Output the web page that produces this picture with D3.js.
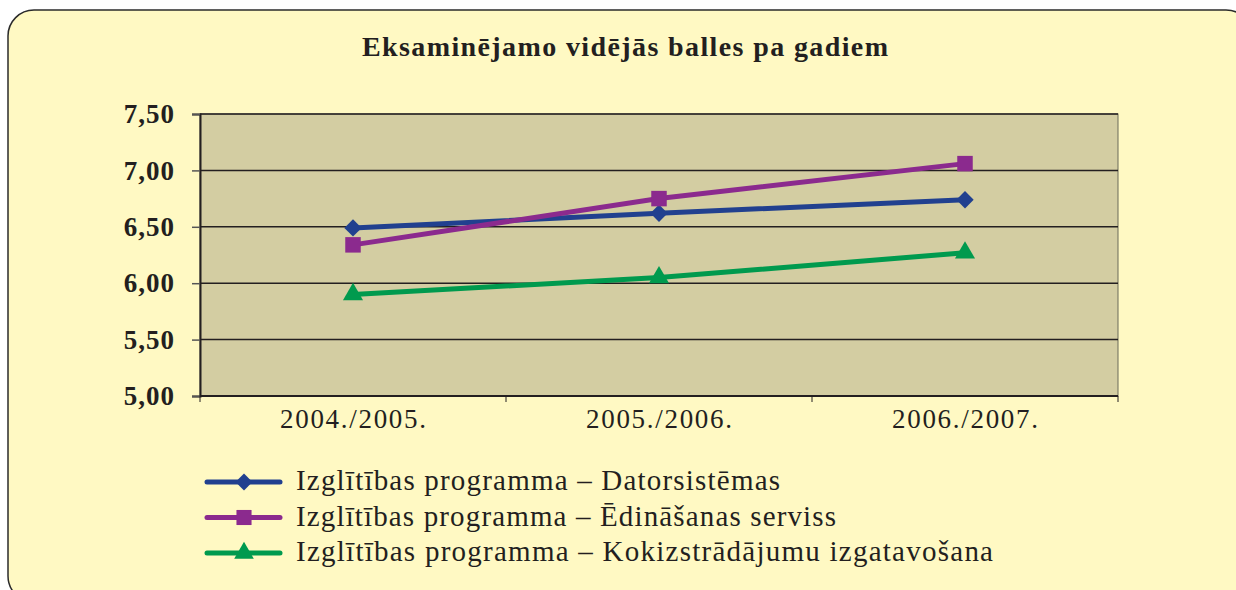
<html>
<head>
<script src="https://d3js.org/d3.v7.min.js"></script>
<style>
  body { margin: 0; background: #ffffff; }
  svg text { font-family: "Liberation Serif", "DejaVu Serif", serif; fill: #231f20; }
</style>
</head>
<body>
<svg id="chart" width="1236" height="590"></svg>
<script>
// data
const years = ['2004./2005.', '2005./2006.', '2006./2007.'];
const datorsistemas = [6.49, 6.62, 6.74];
const edinasanas = [6.34, 6.75, 7.06];
const kokizstradajumi = [5.90, 6.05, 6.27];
const yTicks = [5.0, 5.5, 6.0, 6.5, 7.0, 7.5];
const seriesNames = [
    'Izglītības programma – Datorsistēmas',
    'Izglītības programma – Ēdināšanas serviss',
    'Izglītības programma – Kokizstrādājumu izgatavošana'
];
const seriesColors = ['#21408f', '#8b2a8e', '#009a4e'];
const seriesShapes = ['diamond', 'square', 'triangle'];

const series = [datorsistemas, edinasanas, kokizstradajumi].map(function(v, i){
    return { name: seriesNames[i], color: seriesColors[i], shape: seriesShapes[i],
             values: v.map(function(d, j){ return { year: years[j], value: d }; }) };
});

// marker shapes: diamond = rotated square
function marker(shape, scale){
    if(shape == 'diamond') return { d: d3.symbol().type(d3.symbolSquare).size(150 * scale)(), rot: 45 };
    if(shape == 'square') return { d: d3.symbol().type(d3.symbolSquare).size(240 * scale)(), rot: 0 };
    return { d: d3.symbol().type(d3.symbolTriangle).size(175 * scale)(), rot: 0 };
}

const svg = d3.select('svg#chart');

// panel
svg.append('rect')
    .attr('x', 8).attr('y', 10)
    .attr('width', 1244).attr('height', 592)
    .attr('rx', 26).attr('ry', 26)
    .attr('fill', '#fff9c3')
    .attr('stroke', '#2b2b2b')
    .attr('stroke-width', 1.5);

svg.append('text')
    .attr('x', 625).attr('y', 56)
    .attr('text-anchor', 'middle')
    .attr('font-size', 28)
    .attr('font-weight', 'bold')
    .attr('textLength', 526)
    .attr('lengthAdjust', 'spacing')
    .text('Eksaminējamo vidējās balles pa gadiem');

const plot = { left: 200, right: 1118, top: 114, bottom: 396 };

const x = d3.scaleBand().domain(years).range([plot.left, plot.right]);
const y = d3.scaleLinear().domain([5, 7.5]).range([plot.bottom, plot.top]);

svg.append('rect')
    .attr('x', plot.left).attr('y', plot.top)
    .attr('width', plot.right - plot.left).attr('height', plot.bottom - plot.top)
    .attr('fill', '#d3cda2')
    .attr('stroke', '#6b6b5a')
    .attr('stroke-width', 1);

// grid lines
svg.append('g')
    .selectAll('line').data(yTicks.slice(1))
    .enter().append('line')
    .attr('x1', plot.left).attr('x2', plot.right)
    .attr('y1', function(d){ return y(d); })
    .attr('y2', function(d){ return y(d); })
    .attr('stroke', '#231f20')
    .attr('stroke-width', 1.5);

// y axis
const yAxis = svg.append('g')
    .attr('transform', 'translate(' + plot.left + ',0)')
    .call(d3.axisLeft(y).tickValues(yTicks).tickSize(8).tickPadding(17)
        .tickFormat(function(d){ return d3.format('.2f')(d).replace('.', ','); }));
yAxis.select('.domain').attr('stroke', '#231f20').attr('stroke-width', 2);
yAxis.selectAll('.tick line').attr('stroke', '#555').attr('stroke-width', 1.5);
yAxis.selectAll('text')
    .attr('font-size', 27).attr('font-weight', 'bold')
    .attr('fill', '#000')
    .attr('letter-spacing', 1)
    .style('font-family', '"Liberation Serif", serif');

// x axis, ticks on band edges
const xAxis = svg.append('g')
    .attr('transform', 'translate(0,' + plot.bottom + ')');
xAxis.append('line')
    .attr('x1', plot.left).attr('x2', plot.right)
    .attr('stroke', '#231f20').attr('stroke-width', 2);
const edges = years.map(function(d){ return x(d); }).concat([plot.right]);
xAxis.selectAll('line.tick').data(edges)
    .enter().append('line')
    .attr('class', 'tick')
    .attr('x1', function(d){ return d; }).attr('x2', function(d){ return d; })
    .attr('y1', 0).attr('y2', 6)
    .attr('stroke', '#231f20').attr('stroke-width', 1);
xAxis.selectAll('text').data(years)
    .enter().append('text')
    .attr('x', function(d){ return x(d) + x.bandwidth() / 2; })
    .attr('y', 32)
    .attr('text-anchor', 'middle')
    .attr('font-size', 27)
    .attr('textLength', 146)
    .attr('lengthAdjust', 'spacing')
    .text(function(d){ return d; });

// lines and markers
const line = d3.line()
    .x(function(d){ return x(d.year) + x.bandwidth() / 2; })
    .y(function(d){ return y(d.value); });

series.forEach(function(s){
    svg.append('path')
        .datum(s.values)
        .attr('d', line)
        .attr('fill', 'none')
        .attr('stroke', s.color)
        .attr('stroke-width', 5);
    const m = marker(s.shape, 1);
    svg.append('g').selectAll('path').data(s.values)
        .enter().append('path')
        .attr('d', m.d)
        .attr('transform', function(d){
            return 'translate(' + (x(d.year) + x.bandwidth() / 2) + ',' + y(d.value) + ') rotate(' + m.rot + ')';
        })
        .attr('fill', s.color);
});

// legend
const legendWidths = [484, 540, 697];
const legend = svg.append('g').attr('transform', 'translate(207,482)');
series.forEach(function(s, i){
    const g = legend.append('g').attr('transform', 'translate(0,' + (i * 35.5) + ')');
    g.append('line')
        .attr('x1', 0).attr('x2', 73)
        .attr('stroke', s.color).attr('stroke-width', 5)
        .attr('stroke-linecap', 'round');
    const m = marker(s.shape, 0.95);
    g.append('path')
        .attr('d', m.d)
        .attr('transform', 'translate(37,0) rotate(' + m.rot + ')')
        .attr('fill', s.color);
    g.append('text')
        .attr('x', 89).attr('y', 8)
        .attr('font-size', 29)
        .attr('textLength', legendWidths[i])
        .attr('lengthAdjust', 'spacing')
        .text(s.name);
});
</script>
</body>
</html>
